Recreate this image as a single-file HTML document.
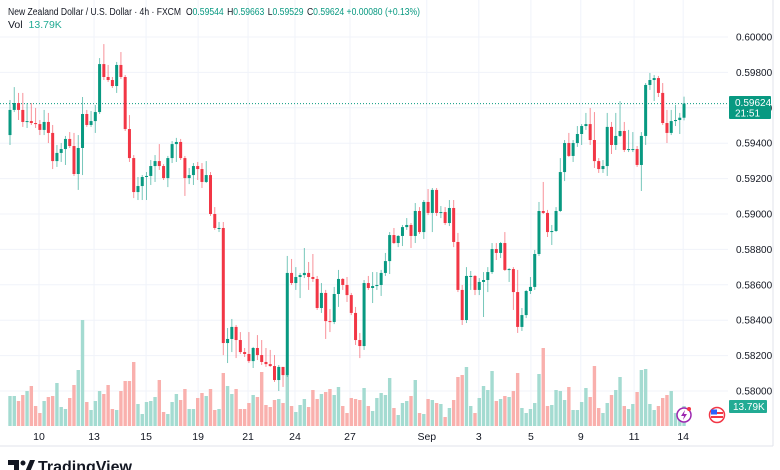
<!DOCTYPE html>
<html><head><meta charset="utf-8">
<style>
html,body{margin:0;padding:0;background:#fff;width:780px;height:470px;overflow:hidden;font-family:"Liberation Sans",sans-serif}
svg text{font-family:"Liberation Sans",sans-serif}
</style></head>
<body>
<svg id="chart" width="780" height="470" viewBox="0 0 780 470" xmlns="http://www.w3.org/2000/svg">
  <rect x="0" y="0" width="780" height="470" fill="#ffffff"/>
  <g id="grid"></g>
  <g id="volumes"></g>
  <line x1="0" x2="728" y1="103.6" y2="103.6" stroke="#089981" stroke-width="1" stroke-dasharray="1,2"/>
  <g id="candles"></g>
  <line x1="0" x2="773" y1="446" y2="446" stroke="#e0e3eb"/>
  <line x1="773" x2="773" y1="0" y2="446" stroke="#e0e3eb"/>
  <g id="yaxis"></g>
  <g id="xaxis"></g>
  <g>
    <rect x="729" y="96" width="42" height="23" rx="1" fill="#089981"/>
    <text x="735" y="106" font-size="10" fill="#fff">0.59624</text>
    <text x="735" y="116.5" font-size="10" fill="#fff">21:51</text>
  </g>
  <g>
    <rect x="729" y="400" width="38" height="13" rx="1" fill="#22ab94"/>
    <text x="733" y="410" font-size="10" fill="#fff">13.79K</text>
  </g>
  <text x="8" y="15" font-size="10" textLength="412" lengthAdjust="spacingAndGlyphs" fill="#131722">New Zealand Dollar / U.S. Dollar · 4h · FXCM <tspan dx="3">O</tspan><tspan fill="#089981">0.59544</tspan><tspan dx="4">H</tspan><tspan fill="#089981">0.59663</tspan><tspan dx="4">L</tspan><tspan fill="#089981">0.59529</tspan><tspan dx="4">C</tspan><tspan fill="#089981">0.59624 +0.00080 (+0.13%)</tspan></text>
  <text x="8" y="28" font-size="10.5" fill="#131722">Vol <tspan dx="3" fill="#22ab94">13.79K</tspan></text>
  <g>
    <circle cx="684" cy="415" r="7" fill="#fff" stroke="#9c27b0" stroke-width="1.5"/>
    <path d="M685,410 L681,416 L684,416 L683,420 L687,414 L684,414 Z" fill="#9c27b0"/>
    <circle cx="689" cy="409" r="2" fill="#f23645"/>
  </g>
  <g>
    <circle cx="717" cy="415" r="7.5" fill="#fff" stroke="#f23645" stroke-width="1.5"/>
    <rect x="711" y="412" width="12" height="2" fill="#f23645"/>
    <rect x="711" y="416" width="12" height="2" fill="#f23645"/>
    <rect x="711" y="409.5" width="6" height="5" fill="#2962ff"/>
  </g>
  <g>
    <path d="M8,460 h11 v12 h-5 v-7 h-6 z" fill="#131722"/>
    <circle cx="23" cy="463" r="2.5" fill="#131722"/>
    <path d="M25,472 l5,-12 h5 l-5,12 z" fill="#131722"/>
    <text x="38" y="472" font-size="16" font-weight="bold" fill="#131722">TradingView</text>
  </g>
</svg>
<script>
// prices in points (price x 100000); open of each candle = previous close
const firstOpen = 59446;
const closes = [59588,59627,59588,59520,59525,59514,59508,59475,59520,59458,59299,59345,59367,59424,59384,59226,59373,59565,59503,59525,59576,59847,59774,59757,59723,59842,59774,59480,59316,59124,59158,59209,59215,59271,59299,59271,59203,59316,59395,59407,59316,59203,59220,59271,59254,59181,59220,59000,58921,58921,58271,58294,58362,58288,58220,58209,58169,58243,58203,58164,58152,58141,58062,58136,58090,58667,58610,58644,58655,58667,58644,58633,58469,58554,58395,58390,58548,58633,58599,58542,58441,58288,58254,58610,58582,58593,58599,58667,58734,58881,58836,58876,58926,58938,58876,59017,58898,59068,59006,59136,59006,59011,58949,59034,58842,58571,58401,58650,58650,58571,58616,58627,58672,58802,58780,58836,58684,58689,58559,58362,58429,58565,58588,58774,59017,59006,58898,58904,59017,59237,59401,59328,59401,59452,59497,59508,59418,59299,59254,59271,59492,59390,59441,59469,59362,59367,59367,59277,59441,59729,59757,59768,59684,59514,59458,59525,59531,59544,59624];
const highs = [59644,59717,59684,59684,59627,59627,59599,59531,59588,59571,59503,59390,59401,59441,59463,59458,59446,59661,59588,59582,59616,59881,59960,59842,59774,59859,59915,59785,59559,59333,59209,59220,59237,59305,59333,59395,59282,59328,59412,59430,59424,59328,59260,59288,59294,59288,59299,59237,59039,58955,58955,58356,58407,58373,58333,58243,58333,58249,58316,58288,58243,58232,58203,58147,58136,58763,58746,58700,58667,58808,58729,58774,58650,58610,58571,58463,58588,58684,58638,58644,58554,58475,58328,58627,58650,58672,58672,58684,58780,58898,58921,58881,58938,58977,58949,59062,59039,59079,59141,59147,59147,59045,59039,59079,59079,58893,58599,58700,58678,58655,58638,58672,58700,58836,58836,58842,58898,58695,58700,58684,58469,58571,58644,58797,59068,59181,59023,58938,59039,59316,59418,59458,59418,59497,59508,59571,59599,59576,59316,59305,59571,59520,59571,59638,59520,59475,59463,59384,59463,59740,59797,59785,59780,59740,59588,59588,59616,59571,59663];
const lows = [59390,59576,59531,59492,59486,59503,59486,59446,59446,59401,59254,59266,59294,59277,59373,59215,59136,59220,59492,59492,59458,59565,59757,59746,59712,59684,59763,59469,59294,59090,59079,59079,59079,59164,59181,59249,59192,59152,59288,59294,59305,59102,59169,59164,59192,59147,59175,58989,58910,58898,58203,58158,58220,58186,58209,58192,58158,58130,58175,58147,58136,58136,58051,58000,58023,58079,58599,58571,58525,58638,58571,58616,58458,58441,58294,58333,58378,58475,58571,58503,58429,58260,58186,58232,58571,58497,58571,58537,58650,58661,58830,58813,58819,58910,58808,58836,58887,58859,58994,58898,58989,58977,58938,58932,58813,58559,58373,58384,58571,58542,58542,58418,58559,58661,58740,58751,58678,58616,58458,58328,58339,58412,58548,58571,58763,59000,58870,58825,58898,59011,59186,59322,59294,59379,59390,59475,59390,59260,59232,59232,59215,59339,59362,59435,59350,59350,59350,59266,59130,59390,59701,59638,59661,59503,59401,59446,59497,59452,59529];
// volume (relative units, last bar = 13.79K)
const volumes = [30,30,25,31,35,40,20,13,25,29,30,43,19,17,28,41,56,106,24,16,25,35,32,41,17,16,35,45,45,64,22,12,24,25,29,46,14,12,24,32,26,37,17,17,28,33,30,37,16,17,53,40,32,37,17,17,23,31,29,54,21,19,26,27,23,51,20,14,21,27,19,36,27,32,34,37,31,39,20,13,28,27,26,38,20,15,28,33,31,48,18,11,23,25,30,46,13,12,27,26,23,22,9,18,26,49,51,59,20,13,28,40,36,55,25,27,30,29,35,53,18,13,17,23,52,78,20,21,36,35,26,39,16,16,24,38,29,60,18,13,23,31,36,49,20,17,22,34,56,57,22,16,20,28,31,35,13,13,20];
const priceTicks = [60000,59800,59600,59400,59200,59000,58800,58600,58400,58200,58000];
const dateLabels = ["10","13","15","19","21","24","27","Sep","3","5","9","11","14"];
const dateIndex = [6.8,19.7,31.9,44.1,55.8,66.8,79.7,97.7,109.9,122.1,133.8,146.3,157.8];

const NS = "http://www.w3.org/2000/svg";
function yScale(p){ return 37 + (60000 - p) * 0.177; }
function xScale(i){ return 10 + i * 4.266; }
function vScale(v){ return 426 - v; }
function mk(tag, attrs, parent){
  const e = document.createElementNS(NS, tag);
  for (const k in attrs) e.setAttribute(k, attrs[k]);
  parent.appendChild(e);
  return e;
}
const grid = document.getElementById('grid');
const yaxis = document.getElementById('yaxis');
priceTicks.forEach(function(t){
  const y = yScale(t);
  const gl = mk('line', {x1:0, x2:728, y1:y, y2:y, stroke:'#f0f3fa', 'stroke-width':1}, grid);
  
  
  const tx = mk('text', {x:736, y:y+3.5, 'font-size':10, fill:'#131722'}, yaxis);
  tx.textContent = (t/100000).toFixed(5);
  
  
});
const xaxis = document.getElementById('xaxis');
dateLabels.forEach(function(lbl, k){
  const x = xScale(dateIndex[k]);
  const gl = mk('line', {x1:x, x2:x, y1:0, y2:426, stroke:'#f0f3fa', 'stroke-width':1}, grid);
  
  
  const tx = mk('text', {x:x, y:440, 'font-size':10.5, fill:'#131722', 'text-anchor':'middle'}, xaxis);
  tx.textContent = lbl;
  
  
});
const vg = document.getElementById('volumes');
const cg = document.getElementById('candles');
closes.forEach(function(c, i){
  const o = i === 0 ? firstOpen : closes[i-1];
  const up = c >= o;
  const x = xScale(i);
  const vy = vScale(volumes[i]);
  const vb = mk('rect', {x:x-1.7, y:vy, width:3.4, height:426-vy, fill: up ? '#a4dbd1' : '#f9b0ad'}, vg);
  
  
  const col = up ? '#089981' : '#f23645';
  const w = mk('line', {x1:x, x2:x, y1:yScale(highs[i]), y2:yScale(lows[i]), stroke:col, 'stroke-opacity':0.55, 'stroke-width':1}, cg);
  
  
  const top = yScale(Math.max(o, c)), bot = yScale(Math.min(o, c));
  const b = mk('rect', {x:x-1.5, y:top, width:3, height:Math.max(1, bot-top), fill:col}, cg);
  
  
});
</script>
</body></html>
